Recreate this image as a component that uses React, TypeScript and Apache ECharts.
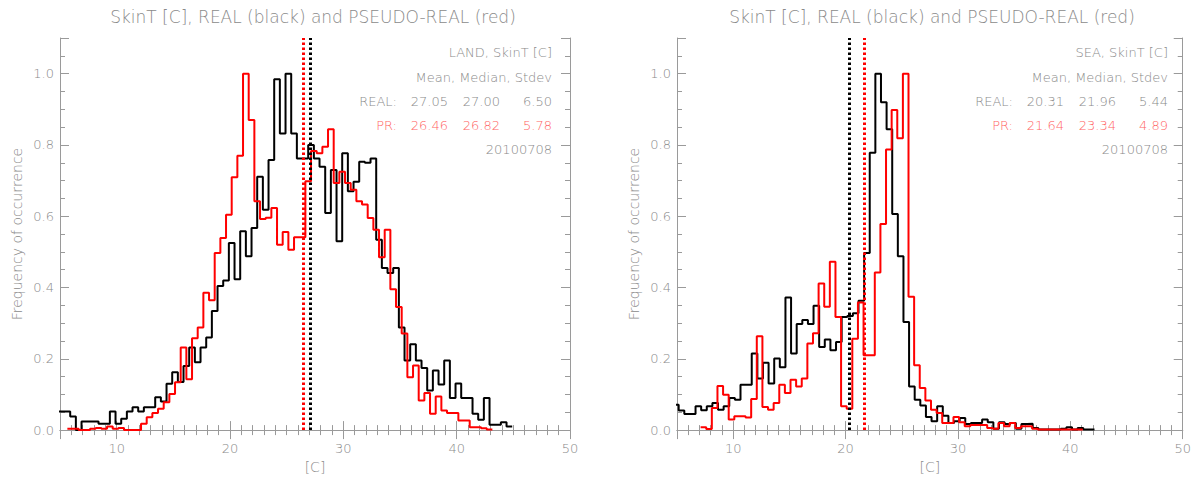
import React, { useEffect, useRef } from "react";
import * as echarts from "echarts";

// ---------------- data ----------------
const BIN_WIDTH = 0.5;

// LAND, REAL (black) – first bin edge
const LAND_REAL_START = 4.9;
const LAND_REAL = [
  0.052, 0.052, 0.038, 0.0, 0.024, 0.024, 0.024, 0.018, 0.018, 0.052,
  0.018, 0.032, 0.052, 0.064, 0.052, 0.064, 0.064, 0.092, 0.08, 0.13,
  0.162, 0.135, 0.18, 0.232, 0.19, 0.232, 0.26, 0.334, 0.404, 0.42,
  0.525, 0.423, 0.558, 0.488, 0.567, 0.711, 0.618, 0.758, 0.984, 0.832,
  1.0, 0.832, 0.762, 0.762, 0.8, 0.762, 0.739, 0.609, 0.73, 0.53,
  0.777, 0.67, 0.697, 0.753, 0.75, 0.762, 0.534, 0.455, 0.441, 0.455,
  0.288, 0.195, 0.241, 0.195, 0.174, 0.111, 0.167, 0.128, 0.195, 0.09,
  0.131, 0.09, 0.09, 0.046, 0.029, 0.09, 0.015, 0.015, 0.022, 0.01,
];

// LAND, PSEUDO-REAL (red)
const LAND_PR_START = 5.15;
const LAND_PR = [
  null, 0.004, 0.004, 0, 0, 0.004, 0.006, 0.004, 0.01, 0.004,
  0.006, 0, 0, 0, 0.018, 0.036, 0.048, 0.06, 0.078, 0.101,
  0.134, 0.232, 0.143, 0.258, 0.288, 0.385, 0.364, 0.497, 0.539, 0.604,
  0.709, 0.77, 1.0, 0.87, 0.642, 0.592, 0.596, 0.623, 0.52, 0.556,
  0.506, 0.541, 0.541, 0.698, 0.783, 0.777, 0.795, 0.844, 0.693, 0.725,
  0.693, 0.674, 0.642, 0.633, 0.595, 0.562, 0.485, 0.562, 0.395, 0.345,
  0.271, 0.148, 0.181, 0.083, 0.104, 0.046, 0.094, 0.055, 0.048, 0.048,
  0.027, 0.027, 0.008, 0.008, 0.005, 0.002,
];

// SEA, REAL (black)
const SEA_REAL_START = 4.65;
const SEA_REAL = [
  0.071, 0.055, 0.045, 0.045, 0.067, 0.056, 0.067, 0.076, 0.057, 0.067,
  0.09, 0.085, 0.127, 0.127, 0.215, 0.145, 0.189, 0.131, 0.201, 0.176,
  0.372, 0.215, 0.298, 0.309, 0.298, 0.349, 0.233, 0.254, 0.224, 0.247,
  0.317, 0.32, 0.328, 0.363, 0.497, 0.778, 1.0, 0.92, 0.844, 0.606,
  0.488, 0.303, 0.122, 0.085, 0.069, 0.037, 0.025, 0.067, 0.04, 0.02,
  0.025, 0.034, 0.017, 0.02, 0.02, 0.03, 0.022, 0.004, 0.022, 0.017,
  0.02, 0.004, 0.017, 0.018, 0.006, 0.002, 0.002, 0.002, 0.002, 0.004,
  0.008, 0.002, 0.006, 0.002, 0.002,
];

// SEA, PSEUDO-REAL (red)
const SEA_PR_START = 5.1;
const SEA_PR = [
  null, null, null, null, 0.008, 0.003, 0.062, 0.124, 0.099, 0.03,
  0.039, 0.039, 0.035, 0.087, 0.263, 0.065, 0.057, 0.076, 0.127, 0.104,
  0.141, 0.122, 0.145, 0.243, 0.272, 0.411, 0.346, 0.472, 0.317, 0.067,
  0.06, 0.256, 0.358, 0.21, 0.21, 0.442, 0.578, 0.787, 0.898, 0.819,
  1.0, 0.374, 0.182, 0.118, 0.083, 0.057, 0.048, 0.02, 0.02, 0.037,
  0.022, 0.011, 0.014, 0.014, 0.014, 0.006, 0.004, 0.02, 0.011, 0.02,
  0.006, 0.011, 0.011, 0.004, 0.002, 0.002, 0.002, 0.002, 0.002, 0.002,
  0.002, 0.002,
];

// statistics: mean, median, stdev
const LAND_REAL_STATS = [27.05, 27.0, 6.5];
const LAND_PR_STATS = [26.46, 26.82, 5.78];
const SEA_REAL_STATS = [20.31, 21.96, 5.44];
const SEA_PR_STATS = [21.64, 23.34, 4.89];

const PANEL_HEADERS = ["LAND, SkinT [C]", "SEA, SkinT [C]"];
const STATS_HEADER = "Mean, Median, Stdev";
const ROW_LABELS = ["REAL:", "PR:"];
const DATE_LABEL = "20100708";
const TITLE = "SkinT [C], REAL (black) and PSEUDO-REAL (red)";
const X_NAME = "[C]";
const Y_NAME = "Frequency of occurrence";
const X_RANGE = [5, 50];
const Y_RANGE = [0, 1.1];

// ---------------- styling ----------------
const FONT = "DejaVu Sans";
const GRAY = "#8a8a8a";
const AXIS = "#9a9a9a";
const RED_TEXT = "#ff6464";

function steps(start: number, values: (number | null)[]) {
  const pts: number[][] = [];
  let last = -1;
  values.forEach((v, i) => {
    if (v === null) return;
    pts.push([start + i * BIN_WIDTH, v]);
    last = i;
  });
  pts.push([start + (last + 1) * BIN_WIDTH, values[last] as number]);
  return pts;
}

const GRIDS = [
  { left: 60, top: 38, width: 510, height: 395 },
  { left: 677, top: 38, width: 511, height: 395 },
];

function xAxes(g: number) {
  const common = {
    gridIndex: g,
    type: "value",
    min: X_RANGE[0],
    max: X_RANGE[1],
    splitNumber: 5,
    minInterval: 10,
    maxInterval: 10,
    axisLine: { show: true, lineStyle: { color: AXIS, width: 1 } },
    axisTick: { show: true, inside: true, length: 9, lineStyle: { color: AXIS, width: 1 } },
    minorTick: { show: true, splitNumber: 10, length: 5, lineStyle: { color: AXIS, width: 1 } },
    splitLine: { show: false },
    minorSplitLine: { show: false },
  };
  return [
    {
      ...common,
      position: "bottom",
      axisLabel: {
        show: true,
        color: GRAY,
        fontSize: 13,
        fontFamily: FONT,
        fontWeight: 200,
        margin: 12,
        showMinLabel: false,
      },
      name: X_NAME,
      nameLocation: "middle",
      nameGap: 29,
      nameTextStyle: { color: GRAY, fontSize: 14, fontFamily: FONT, fontWeight: 200 },
    },
    { ...common, position: "top", axisLabel: { show: false } },
  ];
}

function yAxes(g: number) {
  const common = {
    gridIndex: g,
    type: "value",
    min: Y_RANGE[0],
    max: Y_RANGE[1],
    minInterval: 0.2,
    maxInterval: 0.2,
    splitNumber: 5,
    axisLine: { show: true, lineStyle: { color: AXIS, width: 1 } },
    axisTick: { show: true, inside: true, length: 9, lineStyle: { color: AXIS, width: 1 } },
    minorTick: { show: true, splitNumber: 4, length: 5, lineStyle: { color: AXIS, width: 1 } },
    splitLine: { show: false },
    minorSplitLine: { show: false },
  };
  return [
    {
      ...common,
      position: "left",
      axisLabel: {
        show: true,
        color: GRAY,
        fontSize: 13,
        fontFamily: FONT,
        fontWeight: 200,
        margin: 6,
        showMaxLabel: false,
        formatter: (v: number) => v.toFixed(1),
      },
      name: Y_NAME,
      nameLocation: "middle",
      nameGap: 36,
      nameRotate: 90,
      nameTextStyle: { color: GRAY, fontSize: 14, fontFamily: FONT, fontWeight: 200 },
    },
    { ...common, position: "right", axisLabel: { show: false } },
  ];
}

function histSeries(
  g: number,
  start: number,
  values: (number | null)[],
  color: string,
  mean: number,
  name: string
) {
  return {
    type: "line",
    name,
    xAxisIndex: g * 2,
    yAxisIndex: g * 2,
    step: "end",
    data: steps(start, values),
    symbol: "none",
    showSymbol: false,
    clip: true,
    silent: true,
    lineStyle: { color, width: 2 },
    markLine: {
      silent: true,
      symbol: ["none", "none"],
      label: { show: false },
      lineStyle: { color, width: 3, type: [2.5, 2.5] },
      data: [{ xAxis: mean }],
    },
  };
}

function fmt(v: number) {
  return v.toFixed(2);
}

function panelTexts(right: number, header: string, real: number[], pr: number[]) {
  const base = { fontFamily: FONT, fontWeight: 200, fontSize: 13 };
  const els: any[] = [];
  const rowYs = [52, 77, 101, 125, 149];
  const add = (x: number, y: number, text: string, fill: string) =>
    els.push({
      type: "text",
      x,
      y,
      silent: true,
      style: { ...base, text, fill, textAlign: "right", textVerticalAlign: "middle" },
    });
  add(right, rowYs[0], header, GRAY);
  add(right, rowYs[1], STATS_HEADER, GRAY);
  const cols = [right - 155, right - 104, right - 52, right];
  add(cols[0], rowYs[2], ROW_LABELS[0], GRAY);
  real.forEach((v, i) => add(cols[i + 1], rowYs[2], fmt(v), GRAY));
  add(cols[0], rowYs[3], ROW_LABELS[1], RED_TEXT);
  pr.forEach((v, i) => add(cols[i + 1], rowYs[3], fmt(v), RED_TEXT));
  add(right, rowYs[4], DATE_LABEL, GRAY);
  return els;
}

export default function App() {
  const ref = useRef<HTMLDivElement>(null);
  useEffect(() => {
    if (!ref.current) return;
    const chart = echarts.init(ref.current, undefined, { renderer: "svg" });
    const titleStyle = { fontFamily: FONT, fontWeight: 200, fontSize: 17 };
    chart.setOption({
      animation: false,
      backgroundColor: "#ffffff",
      textStyle: { fontFamily: FONT },
      grid: GRIDS.map((g) => ({ ...g, containLabel: false })),
      xAxis: [...xAxes(0), ...xAxes(1)],
      yAxis: [...yAxes(0), ...yAxes(1)],
      series: [
        histSeries(0, LAND_REAL_START, LAND_REAL, "#000000", LAND_REAL_STATS[0], "REAL"),
        histSeries(0, LAND_PR_START, LAND_PR, "#ff0000", LAND_PR_STATS[0], "PR"),
        histSeries(1, SEA_REAL_START, SEA_REAL, "#000000", SEA_REAL_STATS[0], "REAL"),
        histSeries(1, SEA_PR_START, SEA_PR, "#ff0000", SEA_PR_STATS[0], "PR"),
      ],
      graphic: [
        {
          type: "text",
          x: 313,
          y: 17,
          silent: true,
          style: { ...titleStyle, text: TITLE, fill: GRAY, textAlign: "center", textVerticalAlign: "middle" },
        },
        {
          type: "text",
          x: 932,
          y: 17,
          silent: true,
          style: { ...titleStyle, text: TITLE, fill: GRAY, textAlign: "center", textVerticalAlign: "middle" },
        },
        ...panelTexts(552, PANEL_HEADERS[0], LAND_REAL_STATS, LAND_PR_STATS),
        ...panelTexts(1168, PANEL_HEADERS[1], SEA_REAL_STATS, SEA_PR_STATS),
      ],
    });
    return () => chart.dispose();
  }, []);
  return (
    <div
      ref={ref}
      style={{ position: "absolute", left: 0, top: 0, width: 1194, height: 479, background: "#fff" }}
    />
  );
}
